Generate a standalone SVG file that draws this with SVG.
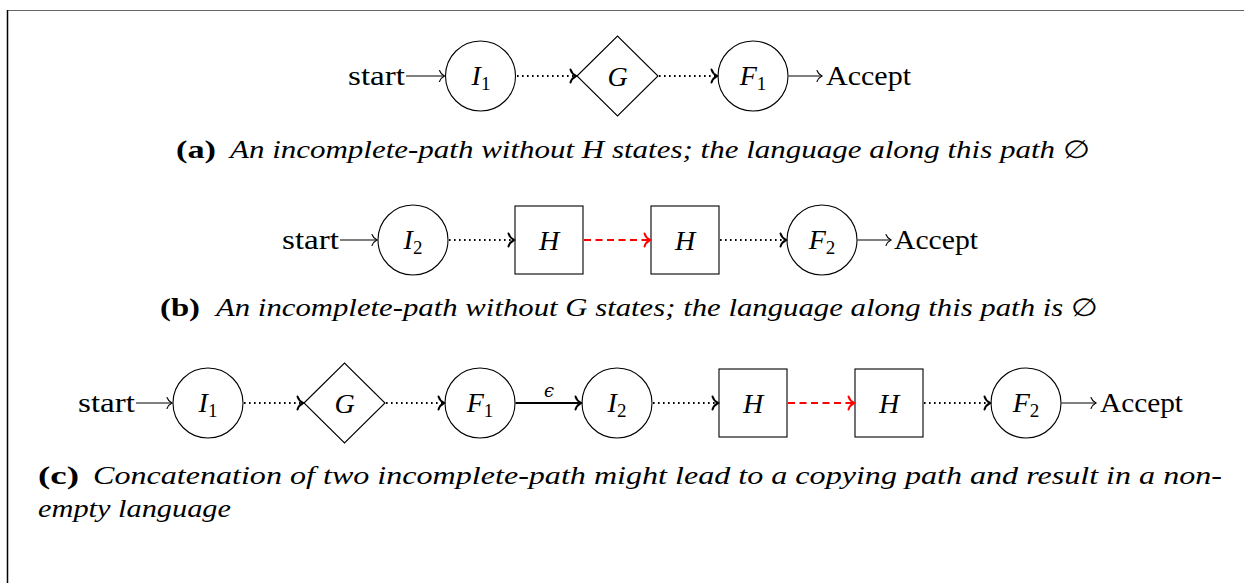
<svg xmlns="http://www.w3.org/2000/svg" width="1244" height="583" viewBox="0 0 1244 583">
<style>
  .node { fill: #fff; stroke: #000; stroke-width: 1.1; }
  .lbl { font-family: "Liberation Serif", "Tinos", "DejaVu Serif", serif; font-size: 28px; font-style: italic; text-anchor: middle; fill: #000; }
  .sub { font-style: normal; font-size: 19px; }
  .plain { font-family: "Liberation Serif", "Tinos", "DejaVu Serif", serif; font-size: 28px; fill: #000; }
  .solid { fill: none; stroke: #000; stroke-width: 1.1; }
  .eps { fill: none; stroke: #000; stroke-width: 2; }
  .dot { fill: none; stroke: #000; stroke-width: 1.9; stroke-dasharray: 1.6 3.4; }
  .red { fill: none; stroke: #ff0000; stroke-width: 1.9; stroke-dasharray: 7 4.5; }
  .capb { font-family: "Liberation Serif", "Tinos", "DejaVu Serif", serif; font-size: 25px; font-weight: bold; fill: #000; }
  .capi { font-family: "Liberation Serif", "Tinos", "DejaVu Serif", serif; font-size: 25px; font-style: italic; fill: #000; }
  .eset { font-family: "DejaVu Serif", serif; font-style: normal; }
</style>
<defs>
  <marker id="to" markerUnits="userSpaceOnUse" orient="auto" refX="0" refY="0" markerWidth="12" markerHeight="14" overflow="visible">
    <path d="M -5,-5.5 C -4,-2.5 -1.2,-0.6 0,0 C -1.2,0.6 -4,2.5 -5,5.5" fill="none" stroke="#000" stroke-width="1.1" stroke-linecap="round"/>
  </marker>
  <marker id="toB" markerUnits="userSpaceOnUse" orient="auto" refX="0" refY="0" markerWidth="12" markerHeight="14" overflow="visible">
    <path d="M -5.5,-6.5 C -4.5,-3 -1.3,-0.7 0,0 C -1.3,0.7 -4.5,3 -5.5,6.5" fill="none" stroke="#000" stroke-width="2" stroke-linecap="round"/>
  </marker>
  <marker id="toR" markerUnits="userSpaceOnUse" orient="auto" refX="0" refY="0" markerWidth="12" markerHeight="14" overflow="visible">
    <path d="M -5.5,-6.5 C -4.5,-3 -1.3,-0.7 0,0 C -1.3,0.7 -4.5,3 -5.5,6.5" fill="none" stroke="#ff0000" stroke-width="2" stroke-linecap="round"/>
  </marker>
</defs>
<rect x="0" y="0" width="1244" height="583" fill="#fff"/>
<g id="frame">
  <line x1="7" y1="10.5" x2="1244" y2="10.5" stroke="#666" stroke-width="1.2"/>
  <line x1="7.5" y1="10" x2="7.5" y2="583" stroke="#000" stroke-width="1.5"/>
</g>

<!-- Row (a) -->
<g id="a-start"><text class="plain" x="348" y="85" textLength="57" lengthAdjust="spacingAndGlyphs">start</text></g>
<g id="a-I1"><circle class="node" cx="480.5" cy="76" r="35"/><text class="lbl" x="481" y="85">I<tspan class="sub" dy="5">1</tspan></text></g>
<g id="a-G"><polygon class="node" points="577,76 617.5,36 658,76 617.5,116"/><text class="lbl" x="617.5" y="86">G</text></g>
<g id="a-F1"><circle class="node" cx="753" cy="76" r="35"/><text class="lbl" x="753" y="85">F<tspan class="sub" dy="5">1</tspan></text></g>
<g id="a-accept"><text class="plain" x="826" y="85" textLength="85" lengthAdjust="spacingAndGlyphs">Accept</text></g>

<!-- Row (b) -->
<g id="b-start"><text class="plain" x="282" y="249" textLength="57" lengthAdjust="spacingAndGlyphs">start</text></g>
<g id="b-I2"><circle class="node" cx="413" cy="240" r="35"/><text class="lbl" x="413" y="249">I<tspan class="sub" dy="5">2</tspan></text></g>
<g id="b-H1"><rect class="node" x="515" y="206" width="68" height="68"/><text class="lbl" x="549" y="250">H</text></g>
<g id="b-H2"><rect class="node" x="651" y="206" width="68" height="68"/><text class="lbl" x="685" y="250">H</text></g>
<g id="b-F2"><circle class="node" cx="822" cy="240" r="35"/><text class="lbl" x="822" y="249">F<tspan class="sub" dy="5">2</tspan></text></g>
<g id="b-accept"><text class="plain" x="894" y="249" textLength="84" lengthAdjust="spacingAndGlyphs">Accept</text></g>

<!-- Row (c) -->
<g id="c-start"><text class="plain" x="78" y="412" textLength="57" lengthAdjust="spacingAndGlyphs">start</text></g>
<g id="c-I1"><circle class="node" cx="208" cy="403" r="35"/><text class="lbl" x="208" y="412">I<tspan class="sub" dy="5">1</tspan></text></g>
<g id="c-G"><polygon class="node" points="304,403 344.5,363 385,403 344.5,443"/><text class="lbl" x="344.5" y="413">G</text></g>
<g id="c-F1"><circle class="node" cx="480" cy="403" r="35"/><text class="lbl" x="480" y="412">F<tspan class="sub" dy="5">1</tspan></text></g>
<g id="c-I2"><circle class="node" cx="617" cy="403" r="35"/><text class="lbl" x="617" y="412">I<tspan class="sub" dy="5">2</tspan></text></g>
<g id="c-H1"><rect class="node" x="719" y="369" width="68" height="68"/><text class="lbl" x="753" y="413">H</text></g>
<g id="c-H2"><rect class="node" x="855" y="369" width="68" height="68"/><text class="lbl" x="889" y="413">H</text></g>
<g id="c-F2"><circle class="node" cx="1026" cy="403" r="35"/><text class="lbl" x="1026" y="412">F<tspan class="sub" dy="5">2</tspan></text></g>
<g id="c-accept"><text class="plain" x="1100" y="412" textLength="83" lengthAdjust="spacingAndGlyphs">Accept</text></g>

<g id="connectors">
  <!-- row a -->
  <line class="solid" x1="406" y1="76" x2="444.5" y2="76" marker-end="url(#to)"/>
  <line class="dot" x1="517" y1="76" x2="576" y2="76" marker-end="url(#toB)"/>
  <line class="dot" x1="659" y1="76" x2="717" y2="76" marker-end="url(#toB)"/>
  <line class="solid" x1="788.5" y1="76" x2="822" y2="76" marker-end="url(#to)"/>
  <!-- row b -->
  <line class="solid" x1="340" y1="240" x2="377" y2="240" marker-end="url(#to)"/>
  <line class="dot" x1="449" y1="240" x2="514" y2="240" marker-end="url(#toB)"/>
  <line class="red" x1="584" y1="240" x2="650" y2="240" marker-end="url(#toR)"/>
  <line class="dot" x1="720" y1="240" x2="786" y2="240" marker-end="url(#toB)"/>
  <line class="solid" x1="857.5" y1="240" x2="891" y2="240" marker-end="url(#to)"/>
  <!-- row c -->
  <line class="solid" x1="136" y1="403" x2="172" y2="403" marker-end="url(#to)"/>
  <line class="dot" x1="244" y1="403" x2="303" y2="403" marker-end="url(#toB)"/>
  <line class="dot" x1="386" y1="403" x2="444" y2="403" marker-end="url(#toB)"/>
  <line class="eps" x1="515.5" y1="403" x2="581" y2="403" marker-end="url(#toB)"/>
  <text x="549" y="397" font-family="DejaVu Serif, serif" font-size="18" font-style="italic" text-anchor="middle" fill="#000">ϵ</text>
  <line class="dot" x1="653" y1="403" x2="718" y2="403" marker-end="url(#toB)"/>
  <line class="red" x1="788" y1="403" x2="854" y2="403" marker-end="url(#toR)"/>
  <line class="dot" x1="924" y1="403" x2="990" y2="403" marker-end="url(#toB)"/>
  <line class="solid" x1="1061.5" y1="403" x2="1096" y2="403" marker-end="url(#to)"/>
</g>

<g id="captions">
  <text class="capb" x="176" y="158" textLength="40" lengthAdjust="spacingAndGlyphs">(a)</text>
  <text class="capi" x="230" y="158" textLength="860" lengthAdjust="spacingAndGlyphs">An incomplete-path without H states; the language along this path <tspan class="eset">∅</tspan></text>
  <text class="capb" x="160" y="316" textLength="40" lengthAdjust="spacingAndGlyphs">(b)</text>
  <text class="capi" x="216" y="316" textLength="882" lengthAdjust="spacingAndGlyphs">An incomplete-path without G states; the language along this path is <tspan class="eset">∅</tspan></text>
  <text class="capb" x="38" y="484" textLength="41" lengthAdjust="spacingAndGlyphs">(c)</text>
  <text class="capi" x="93" y="484" textLength="1129" lengthAdjust="spacingAndGlyphs">Concatenation of two incomplete-path might lead to a copying path and result in a non-</text>
  <text class="capi" x="38" y="517" textLength="193" lengthAdjust="spacingAndGlyphs">empty language</text>
</g>
</svg>
